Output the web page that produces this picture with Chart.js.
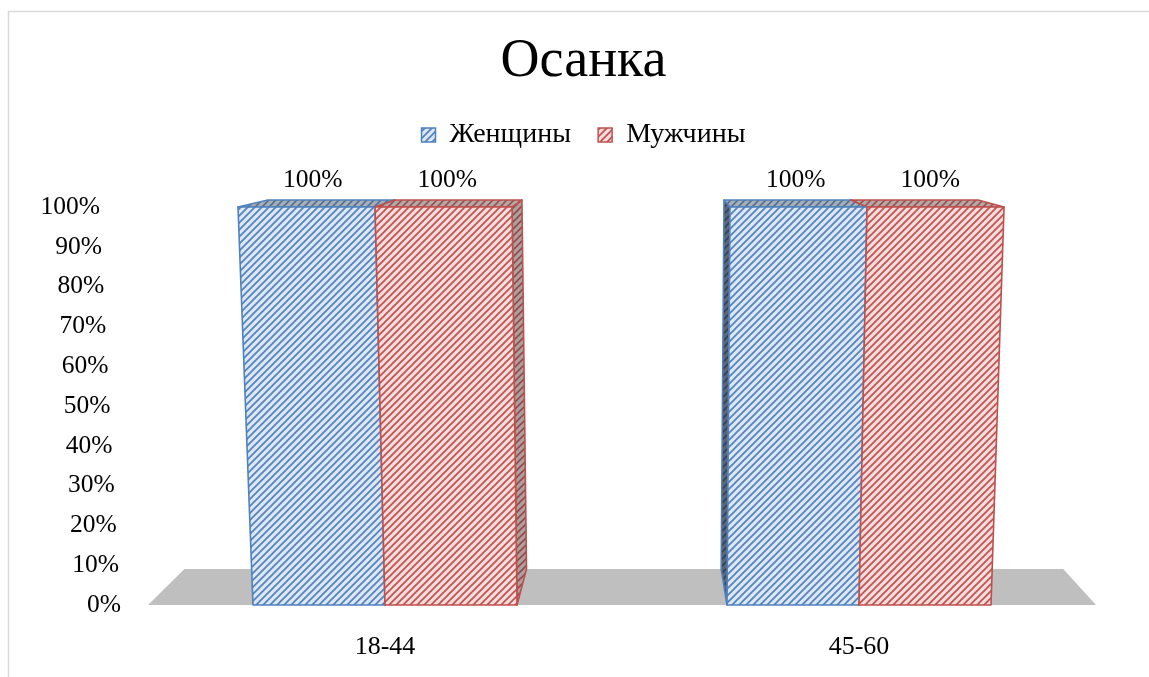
<!DOCTYPE html>
<html>
<head>
<meta charset="utf-8">
<title>Осанка</title>
<script src="https://cdn.jsdelivr.net/npm/chart.js@4/dist/chart.umd.min.js"></script>
<style>
  html, body { margin: 0; padding: 0; background: #ffffff; overflow: hidden; }
  #wrap { width: 1149px; height: 677px; position: relative; }
</style>
</head>
<body>
<div id="wrap"><canvas id="chart" width="1149" height="677"></canvas></div>
<script>
// ---- data ----
const categories = ['18-44', '45-60'];
const seriesNames = ['Женщины', 'Мужчины'];
const womenValues = [100, 100];
const menValues = [100, 100];
const axisMin = 0;
const axisMax = 100;
const axisStep = 10;

// ---- look ----
const FONT = "'Liberation Serif', 'Times New Roman', serif";
const INK = '#000000';
const SERIES_STYLE = [
  { line: '#4F81BD', paper: '#DCE6F2' },
  { line: '#C0504D', paper: '#F2DCDB' }
];
// perspective of the 3-D box: vanishing point and depth of the floor
const VIEW = { vpX: 0.527, vpRise: 95, depth: 0.073, flare: 0.038 };

function hatch(line, paper) {
  const n = 7;
  const c = document.createElement('canvas');
  c.width = n; c.height = n;
  const g = c.getContext('2d');
  g.fillStyle = paper;
  g.fillRect(0, 0, n, n);
  g.strokeStyle = line;
  g.lineWidth = 1.6;
  g.beginPath();
  g.moveTo(-1, n + 1); g.lineTo(n + 1, -1);
  g.moveTo(-1, 1); g.lineTo(1, -1);
  g.moveTo(n - 1, n + 1); g.lineTo(n + 1, n - 1);
  g.stroke();
  return g.createPattern(c, 'repeat');
}
const patterns = SERIES_STYLE.map(s => hatch(s.line, s.paper));

function perspective(chart) {
  const a = chart.chartArea;
  const vx = a.left + (a.right - a.left) * VIEW.vpX;
  const vy = a.top - VIEW.vpRise;
  const flareX = (x, y) => {
    const f = (a.bottom - y) / (a.bottom - a.top);
    return vx + (x - vx) * (1 + VIEW.flare * f);
  };
  const back = p => [p[0] + (vx - p[0]) * VIEW.depth, p[1] + (vy - p[1]) * VIEW.depth];
  return { a, vx, vy, flareX, back };
}

function poly(ctx, pts) {
  ctx.beginPath();
  ctx.moveTo(pts[0][0], pts[0][1]);
  for (let i = 1; i < pts.length; i++) ctx.lineTo(pts[i][0], pts[i][1]);
  ctx.closePath();
}

function face(ctx, pts, fill, shade, stroke) {
  poly(ctx, pts);
  ctx.fillStyle = fill;
  ctx.fill();
  if (shade) { ctx.fillStyle = shade; ctx.fill(); }
  ctx.lineWidth = 1.6;
  ctx.lineJoin = 'round';
  ctx.strokeStyle = stroke;
  ctx.stroke();
}

// frame round the chart
const framePlugin = {
  id: 'frame',
  beforeDraw(chart) {
    const ctx = chart.ctx;
    ctx.save();
    ctx.fillStyle = '#ffffff';
    ctx.fillRect(0, 0, chart.width, chart.height);
    ctx.strokeStyle = '#D9D9D9';
    ctx.lineWidth = 1.5;
    ctx.beginPath();
    ctx.moveTo(8.5, chart.height);
    ctx.lineTo(8.5, 11.5);
    ctx.lineTo(chart.width, 11.5);
    ctx.stroke();
    ctx.restore();
  }
};

// floor and 3-D columns built on the bar elements of the chart
const box3dPlugin = {
  id: 'box3d',
  beforeDatasetsDraw(chart) {
    const ctx = chart.ctx;
    const { a, vx, flareX, back } = perspective(chart);
    ctx.save();

    // grey floor
    const fl = [a.left, a.bottom], fr = [a.right, a.bottom];
    poly(ctx, [fl, fr, back(fr), back(fl)]);
    ctx.fillStyle = '#BFBFBF';
    ctx.fill();

    const boxes = [];
    chart.data.datasets.forEach((ds, di) => {
      const meta = chart.getDatasetMeta(di);
      if (meta.hidden) return;
      meta.data.forEach(el => {
        const p = el.getProps(['x', 'y', 'base', 'width'], true);
        const x0 = p.x - p.width / 2, x1 = p.x + p.width / 2;
        const lt = [flareX(x0, p.y), p.y], rt = [flareX(x1, p.y), p.y];
        const lb = [flareX(x0, p.base), p.base], rb = [flareX(x1, p.base), p.base];
        boxes.push({ di, lt, rt, lb, rb, x0, x1 });
      });
    });

    // sides first, then tops, then fronts
    boxes.forEach(b => {
      const st = SERIES_STYLE[b.di];
      if (b.x1 < vx) face(ctx, [b.rt, b.rb, back(b.rb), back(b.rt)], patterns[b.di], 'rgba(70,70,70,0.40)', st.line);
      if (b.x0 > vx) face(ctx, [b.lt, b.lb, back(b.lb), back(b.lt)], patterns[b.di], 'rgba(30,30,40,0.65)', st.line);
    });
    boxes.forEach(b => {
      const st = SERIES_STYLE[b.di];
      face(ctx, [b.lt, b.rt, back(b.rt), back(b.lt)], patterns[b.di], 'rgba(90,90,90,0.40)', st.line);
    });
    boxes.forEach(b => {
      const st = SERIES_STYLE[b.di];
      face(ctx, [b.lt, b.rt, b.rb, b.lb], patterns[b.di], null, st.line);
    });

    ctx.restore();
    return false;
  },
  afterDraw(chart) {
    const ctx = chart.ctx;
    const { a, vx } = perspective(chart);
    ctx.save();
    ctx.fillStyle = INK;

    // value labels above the columns
    ctx.font = '25.5px ' + FONT;
    ctx.textAlign = 'center';
    ctx.textBaseline = 'middle';
    chart.data.datasets.forEach((ds, di) => {
      const meta = chart.getDatasetMeta(di);
      meta.data.forEach((el, i) => {
        const p = el.getProps(['x', 'y'], true);
        const f = (a.bottom - p.y) / (a.bottom - a.top);
        const x = vx + (p.x - vx) * (1 + VIEW.flare * f / 2);
        ctx.fillText(ds.data[i] + '%', x, p.y - 27);
      });
    });

    // value axis labels, leaning with the wall
    const ys = chart.scales.y;
    ctx.textAlign = 'right';
    ctx.font = '25.5px ' + FONT;
    ys.ticks.forEach(t => {
      const y = ys.getPixelForValue(t.value);
      const f = (a.bottom - y) / (a.bottom - a.top);
      const label = (t.label !== undefined && t.label !== null) ? t.label : t.value + '%';
      ctx.fillText(label, a.left - 27 - 21 * f, y);
    });
    ctx.restore();
  }
};

new Chart(document.getElementById('chart'), {
  type: 'bar',
  data: {
    labels: categories,
    datasets: [
      {
        label: seriesNames[0],
        data: womenValues,
        backgroundColor: patterns[0],
        borderColor: SERIES_STYLE[0].line,
        borderWidth: 1.5
      },
      {
        label: seriesNames[1],
        data: menValues,
        backgroundColor: patterns[1],
        borderColor: SERIES_STYLE[1].line,
        borderWidth: 1.5
      }
    ]
  },
  options: {
    responsive: false,
    animation: false,
    devicePixelRatio: 1,
    datasets: { bar: { barPercentage: 1, categoryPercentage: 0.557 } },
    layout: { padding: { left: 18, right: 0, top: 0, bottom: 0 } },
    plugins: {
      title: {
        display: true,
        text: 'Осанка',
        color: INK,
        font: { family: FONT, size: 54, weight: 'normal', lineHeight: 1.2 },
        padding: { top: 29, bottom: 0 }
      },
      legend: {
        display: true,
        position: 'top',
        labels: {
          color: INK,
          font: { family: FONT, size: 28 },
          boxWidth: 14,
          boxHeight: 14,
          padding: 27.2
        }
      },
      tooltip: { enabled: false }
    },
    scales: {
      x: {
        position: 'bottom',
        grid: { display: false },
        border: { display: false },
        ticks: { color: INK, font: { family: FONT, size: 26 }, padding: 19 },
        afterFit(s) { s.height = 72; }
      },
      spacer: {
        type: 'category',
        position: 'top',
        grid: { display: false },
        border: { display: false },
        ticks: { display: false },
        afterFit(s) { s.height = 48; }
      },
      y: {
        position: 'left',
        min: axisMin,
        max: axisMax,
        grid: { display: false },
        border: { display: false },
        ticks: { display: false, stepSize: axisStep, callback: v => v + '%' },
        afterFit(s) { s.width = 130; }
      },
      yRight: {
        type: 'linear',
        position: 'right',
        grid: { display: false },
        border: { display: false },
        ticks: { display: false },
        afterFit(s) { s.width = 53; }
      }
    }
  },
  plugins: [framePlugin, box3dPlugin]
});
</script>
</body>
</html>
